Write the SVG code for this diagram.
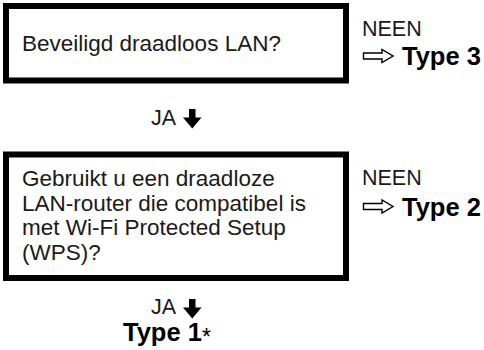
<svg xmlns="http://www.w3.org/2000/svg" width="484" height="350" viewBox="0 0 484 350">
<style>
.box{fill:#fff;stroke:#000;stroke-width:6}
.t{font-family:"Liberation Sans",Arial,Helvetica,sans-serif;fill:#1a1a1a}
.body{font-size:22.5px}
.lbl{font-size:21.5px}
.ja{font-size:21.5px}
.ty{font-size:25.5px;font-weight:bold;fill:#000}
.warr{fill:#fff;stroke:#000;stroke-width:1.4;stroke-linejoin:miter}
.barr{fill:#000}
</style>
<rect width="484" height="350" fill="#fff"/>
<g id="q1">
<rect class="box" x="6" y="6" width="340" height="74.5"/>
<text class="t body" x="22" y="51">Beveiligd draadloos LAN?</text>
</g>
<g id="q2">
<rect class="box" x="6" y="154.5" width="340" height="123.5"/>
<text class="t body" x="22" y="186">Gebruikt u een draadloze</text>
<text class="t body" x="22" y="210.5">LAN-router die compatibel is</text>
<text class="t body" x="22" y="235">met Wi-Fi Protected Setup</text>
<text class="t body" x="22" y="259.5">(WPS)?</text>
</g>
<g id="r3">
<text class="t lbl" x="362" y="36">NEEN</text>
<text class="t ty" x="402" y="65">Type 3</text>
</g>
<g id="r2">
<text class="t lbl" x="362" y="185">NEEN</text>
<text class="t ty" x="402" y="215.5">Type 2</text>
</g>
<g id="r1">
<text class="t ty" x="123" y="341">Type 1<tspan font-weight="normal" font-size="23" dy="3.5">*</tspan></text>
</g>
<g id="connectors">
<text class="t ja" x="151" y="125">JA</text>
<path class="barr" d="M189,109 H195.5 V117.5 H201.5 L192.25,128.5 L183,117.5 H189 Z"/>
<text class="t ja" x="151" y="314">JA</text>
<path class="barr" d="M189,299 H195.5 V307.5 H201.5 L192.25,318.5 L183,307.5 H189 Z"/>
<path class="warr" d="M363.5,53 H382 V49.5 L393,56 L382,62.5 V59 H363.5 Z"/>
<path class="warr" d="M363.5,203.5 H382 V200 L393,206.5 L382,213 V209.5 H363.5 Z"/>
</g>
</svg>
